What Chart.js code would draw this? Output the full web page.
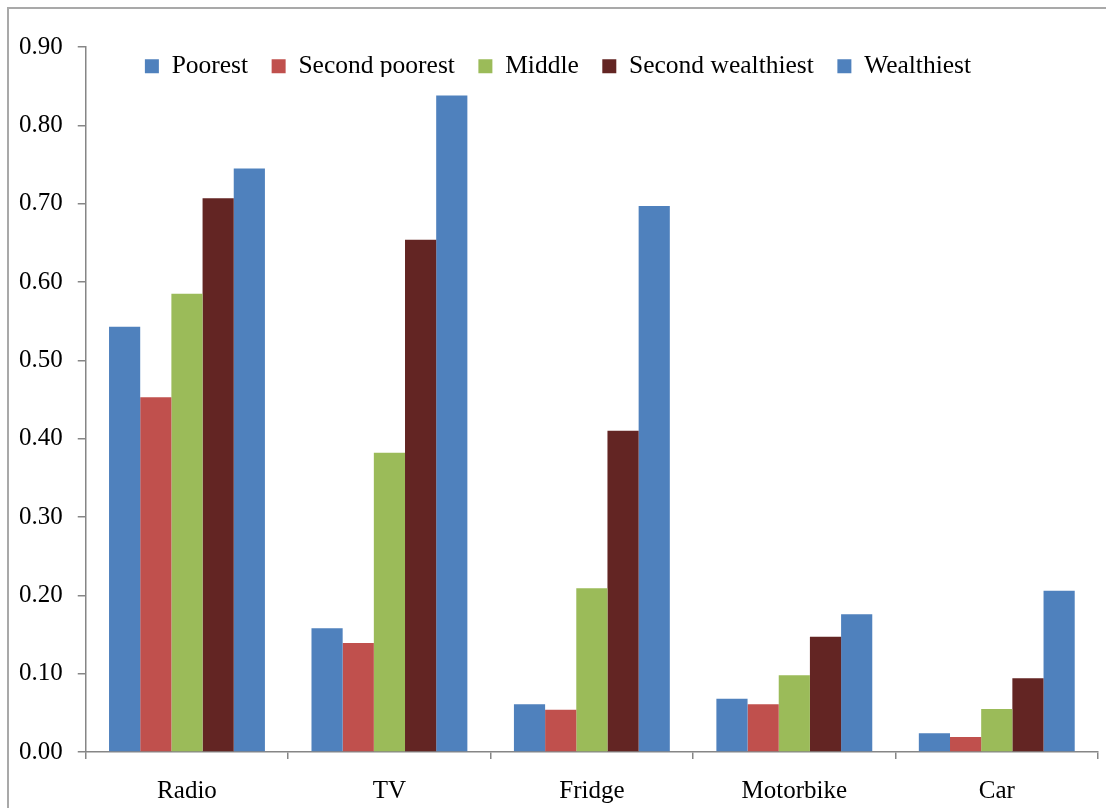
<!DOCTYPE html>
<html>
<head>
<meta charset="utf-8">
<style>
  html, body { margin: 0; padding: 0; background: #ffffff; overflow: hidden; }
  #wrap { position: relative; width: 1106px; height: 808px; }
  #frame { position: absolute; left: 7px; top: 7px; width: 1200px; height: 1000px;
           border: 2px solid #a9a9a9; box-sizing: border-box; pointer-events: none; }
  canvas { position: absolute; left: 0; top: 0; }
</style>
<script src="https://cdn.jsdelivr.net/npm/chart.js@4/dist/chart.umd.min.js"></script>
</head>
<body>
<div id="wrap">
  <div id="frame"></div>
  <canvas id="chart" width="1106" height="808"></canvas>
</div>
<script>
// Household asset ownership by wealth quintile
const categories = ['Radio', 'TV', 'Fridge', 'Motorbike', 'Car'];
const seriesNames = ['Poorest', 'Second poorest', 'Middle', 'Second wealthiest', 'Wealthiest'];
const poorest          = [0.543, 0.158, 0.061, 0.068, 0.024];
const secondPoorest    = [0.453, 0.139, 0.054, 0.061, 0.019];
const middle           = [0.585, 0.382, 0.209, 0.098, 0.055];
const secondWealthiest = [0.707, 0.654, 0.410, 0.147, 0.094];
const wealthiest       = [0.745, 0.838, 0.697, 0.176, 0.206];
const yTicks = [0, 0.1, 0.2, 0.3, 0.4, 0.5, 0.6, 0.7, 0.8, 0.9];

const colors = ['#4f81bd', '#c0504d', '#9bbb59', '#632523', '#4f81bd'];
const values = [poorest, secondPoorest, middle, secondWealthiest, wealthiest];

const FONT = "'Liberation Serif', 'Times New Roman', serif";
const AXIS = '#868686';

// The legend reserves only the strip above the plot, then is drawn
// lowered so that its row sits just inside the top of the plot.
const legendNudge = {
  id: 'legendNudge',
  afterUpdate(chart) {
    const lg = chart.legend;
    if (!lg) return;
    const dx = 7, dy = 30;
    lg.left += dx; lg.right += dx;
    lg.top += dy; lg.bottom += dy;
    if (lg.adjustHitBoxes) lg.adjustHitBoxes();
  }
};

new Chart(document.getElementById('chart'), {
  type: 'bar',
  data: {
    labels: categories,
    datasets: seriesNames.map((name, i) => ({
      label: name,
      data: values[i],
      backgroundColor: colors[i],
      borderWidth: 0,
      categoryPercentage: 0.77,
      barPercentage: 1.0
    }))
  },
  options: {
    responsive: false,
    animation: false,
    devicePixelRatio: 1,
    layout: { padding: { left: 4, right: 8, top: 0, bottom: 0 } },
    plugins: {
      tooltip: { enabled: false },
      legend: {
        position: 'top',
        align: 'center',
        maxHeight: 47,
        labels: {
          font: { family: FONT, size: 25.5 },
          color: '#000000',
          boxWidth: 14,
          boxHeight: 14,
          padding: 23.5
        }
      }
    },
    scales: {
      x: {
        afterFit(scale) { scale.height = 56; },
        grid: { display: true, drawOnChartArea: false, drawTicks: true, tickLength: 7, color: AXIS, lineWidth: 1.5, offset: true },
        border: { display: true, color: AXIS, width: 1.5 },
        ticks: { font: { family: FONT, size: 25 }, color: '#000000', padding: 17 }
      },
      y: {
        min: 0,
        max: 0.9,
        afterBuildTicks(scale) { scale.ticks = yTicks.map(v => ({ value: v })); },
        grid: { display: true, drawOnChartArea: false, drawTicks: true, tickLength: 8, color: AXIS, lineWidth: 1.5 },
        border: { display: true, color: AXIS, width: 1.5 },
        ticks: {
          font: { family: FONT, size: 25 },
          color: '#000000',
          padding: 15,
          callback: v => Number(v).toFixed(2)
        }
      }
    }
  },
  plugins: [legendNudge]
});
</script>
</body>
</html>
